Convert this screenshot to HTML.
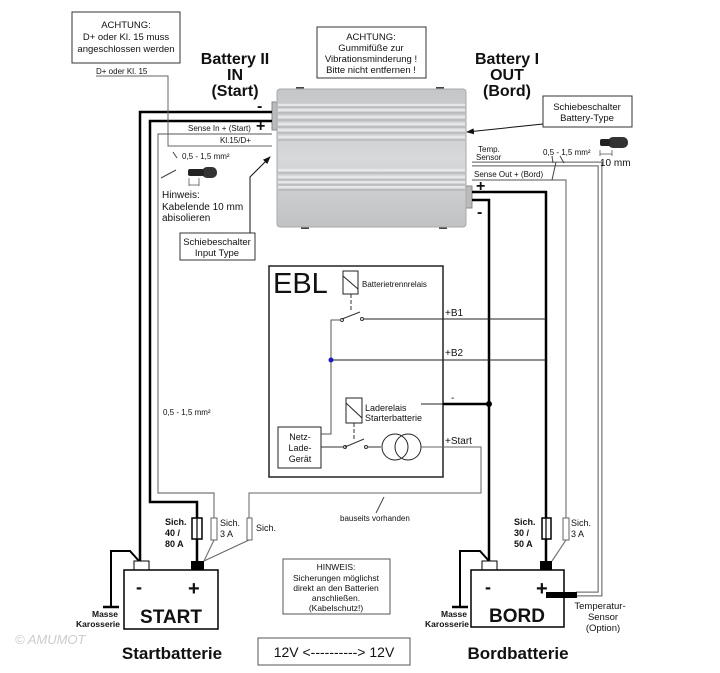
<!DOCTYPE html>
<html><head><meta charset="utf-8"><style>
body{margin:0;background:#fff}
svg{display:block}
text{font-family:"Liberation Sans",Arial,sans-serif;fill:#111}
.s{font-size:8px}
.m{font-size:9.5px}
.b{font-weight:bold}
</style></head><body>
<svg width="720" height="673" viewBox="0 0 720 673" xmlns="http://www.w3.org/2000/svg">
<defs>
<marker id="ar" markerWidth="8" markerHeight="6" refX="7" refY="3" orient="auto"><path d="M0,0 L8,3 L0,6 z" fill="#111"/></marker>
<linearGradient id="g" x1="0" y1="0" x2="0" y2="1"><stop offset="0" stop-color="#c4c6c8"/><stop offset="0.5" stop-color="#d6d8da"/><stop offset="1" stop-color="#c0c2c4"/></linearGradient>
</defs>

<rect x="72" y="12" width="108" height="51" fill="#fff" stroke="#333" stroke-width="1"/>
<text class="m" x="126" y="28" text-anchor="middle">ACHTUNG:</text>
<text class="m" x="126" y="40" text-anchor="middle">D+ oder Kl. 15 muss</text>
<text class="m" x="126" y="52" text-anchor="middle">angeschlossen werden</text>
<text class="s" x="96" y="74">D+ oder Kl. 15</text>

<text x="235" y="64" font-size="16" class="b" text-anchor="middle">Battery II</text>
<text x="235" y="80" font-size="16" class="b" text-anchor="middle">IN</text>
<text x="235" y="96" font-size="16" class="b" text-anchor="middle">(Start)</text>

<rect x="317" y="27" width="109" height="51" fill="#fff" stroke="#333"/>
<text class="m" x="371" y="40" text-anchor="middle">ACHTUNG:</text>
<text class="m" x="371" y="51" text-anchor="middle">Gummifüße zur</text>
<text class="m" x="371" y="62" text-anchor="middle">Vibrationsminderung !</text>
<text class="m" x="371" y="73" text-anchor="middle">Bitte nicht entfernen !</text>

<text x="507" y="64" font-size="16" class="b" text-anchor="middle">Battery I</text>
<text x="507" y="80" font-size="16" class="b" text-anchor="middle">OUT</text>
<text x="507" y="96" font-size="16" class="b" text-anchor="middle">(Bord)</text>

<rect x="543" y="96" width="89" height="31" fill="#fff" stroke="#333"/>
<text class="m" x="587" y="110" text-anchor="middle">Schiebeschalter</text>
<text class="m" x="587" y="121" text-anchor="middle">Battery-Type</text>
<line x1="543" y1="124" x2="467" y2="132" stroke="#111" stroke-width="1" marker-end="url(#ar)"/>

<rect x="272" y="102" width="12" height="28" fill="#bbb" stroke="#888"/>
<rect x="460" y="186" width="12" height="22" fill="#bbb" stroke="#888"/>
<rect x="296" y="87" width="8" height="4" fill="#444"/>
<rect x="436" y="87" width="8" height="4" fill="#444"/>
<rect x="301" y="225" width="8" height="4" fill="#444"/>
<rect x="439" y="225" width="8" height="4" fill="#444"/>
<rect x="277" y="89" width="189" height="138" rx="3" fill="url(#g)" stroke="#aaa"/>
<g stroke="#e6e7e8" stroke-width="2.5">
<line x1="278" y1="105" x2="465" y2="105"/><line x1="278" y1="110" x2="465" y2="110"/>
<line x1="278" y1="117" x2="465" y2="117"/><line x1="278" y1="124" x2="465" y2="124"/>
<line x1="278" y1="130" x2="465" y2="130"/><line x1="278" y1="137" x2="465" y2="137"/>
<line x1="278" y1="170" x2="465" y2="170"/><line x1="278" y1="177" x2="465" y2="177"/>
<line x1="278" y1="182" x2="465" y2="182"/><line x1="278" y1="187" x2="465" y2="187"/>
</g>
<g stroke="#a8aaac" stroke-width="1">
<line x1="278" y1="107" x2="465" y2="107"/><line x1="278" y1="113" x2="465" y2="113"/>
<line x1="278" y1="120" x2="465" y2="120"/><line x1="278" y1="127" x2="465" y2="127"/>
<line x1="278" y1="133" x2="465" y2="133"/><line x1="278" y1="140" x2="465" y2="140"/>
<line x1="278" y1="173" x2="465" y2="173"/><line x1="278" y1="180" x2="465" y2="180"/>
<line x1="278" y1="185" x2="465" y2="185"/><line x1="278" y1="190" x2="465" y2="190"/>
</g>

<text x="257" y="111" font-size="16" class="b">-</text>
<text x="256" y="131" font-size="16" class="b">+</text>
<polyline points="272,112 140,112 140,562" fill="none" stroke="#000" stroke-width="2.5"/>
<polyline points="272,121 150,121 150,502 197,502 197,561" fill="none" stroke="#000" stroke-width="2.5"/>
<g fill="none">
<polyline points="272,134 158,134 158,493 214,493 214,540 204,561" stroke="#777" stroke-width="1.2"/>
<polyline points="96,76 168,76 168,146 272,146" stroke="#666" stroke-width="1"/>
</g>
<text class="s" x="188" y="131">Sense In + (Start)</text>
<text class="s" x="220" y="143">Kl.15/D+</text>
<line x1="173" y1="152" x2="177" y2="158" stroke="#444"/>
<text class="s" x="182" y="159">0,5 - 1,5 mm²</text>
<line x1="161" y1="178" x2="176" y2="170" stroke="#444"/>
<rect x="202" y="167" width="15" height="11" rx="5" fill="#333"/>
<rect x="188" y="169" width="16" height="7" rx="2" fill="#222"/>
<line x1="189" y1="178" x2="189" y2="186" stroke="#444" stroke-width=".7"/>
<line x1="199" y1="178" x2="199" y2="186" stroke="#444" stroke-width=".7"/>
<line x1="189" y1="185" x2="199" y2="185" stroke="#444" stroke-width=".7"/>
<text x="162" y="198" font-size="10">Hinweis:</text>
<text x="162" y="210" font-size="10">Kabelende 10 mm</text>
<text x="162" y="221" font-size="10">abisolieren</text>
<rect x="180" y="233" width="75" height="27" fill="#fff" stroke="#333"/>
<text class="m" x="217" y="245" text-anchor="middle">Schiebeschalter</text>
<text class="m" x="217" y="256" text-anchor="middle">Input Type</text>
<polyline points="250,233 250,177 270,157" fill="none" stroke="#111" marker-end="url(#ar)"/>
<text class="s" x="163" y="415">0,5 - 1,5 mm²</text>

<text x="476" y="191" font-size="16" class="b">+</text>
<text x="477" y="217" font-size="16" class="b">-</text>
<polyline points="472,200 489,200 489,562" fill="none" stroke="#000" stroke-width="2.5"/>
<polyline points="472,192 546,192 546,561" fill="none" stroke="#000" stroke-width="2.5"/>
<g fill="none">
<polyline points="472,180 566,180 566,540 552,561" stroke="#777" stroke-width="1.2"/>
<polyline points="472,164 600,164 600,594 576,594" stroke="#777" stroke-width="5"/>
<polyline points="472,164 600,164 600,594 576,594" stroke="#fff" stroke-width="2.5"/>
</g>
<text class="s" x="478" y="152">Temp.</text>
<text class="s" x="476" y="160">Sensor</text>
<text class="s" x="474" y="177">Sense Out + (Bord)</text>
<text class="s" x="543" y="155">0,5 - 1,5 mm²</text>
<line x1="552" y1="156" x2="553" y2="163" stroke="#444"/>
<line x1="560" y1="156" x2="564" y2="163" stroke="#444"/>
<line x1="556" y1="162" x2="552" y2="180" stroke="#444"/>
<rect x="608" y="137" width="20" height="11" rx="5" fill="#333"/>
<rect x="600" y="139" width="10" height="7" rx="2" fill="#222"/>
<line x1="600" y1="150" x2="600" y2="156" stroke="#444" stroke-width=".7"/>
<line x1="612" y1="150" x2="612" y2="156" stroke="#444" stroke-width=".7"/>
<line x1="600" y1="154" x2="612" y2="154" stroke="#444" stroke-width=".7"/>
<text x="600" y="166" font-size="10">10 mm</text>

<rect x="269" y="266" width="174" height="211" fill="#fff" stroke="#222" stroke-width="1.5"/>
<text x="273" y="293" font-size="29">EBL</text>
<rect x="343" y="271" width="15" height="23" fill="#fff" stroke="#222"/>
<line x1="343" y1="276" x2="358" y2="289" stroke="#222"/>
<text class="s" x="362" y="287">Batterietrennrelais</text>
<line x1="351" y1="294" x2="351" y2="312" stroke="#333" stroke-dasharray="4,2"/>
<circle cx="342" cy="320" r="1.5" fill="none" stroke="#333"/>
<circle cx="362" cy="319" r="1.5" fill="none" stroke="#333"/>
<line x1="342" y1="319" x2="360" y2="312" stroke="#333"/>
<polyline points="341,320 331,320 331,434 321,434" fill="none" stroke="#555"/>
<line x1="364" y1="319" x2="546" y2="319" stroke="#222"/>
<line x1="331" y1="360" x2="546" y2="360" stroke="#222"/>
<circle cx="331" cy="360" r="2.5" fill="#1a1acc"/>
<text font-size="10" x="445" y="316">+B1</text>
<text font-size="10" x="445" y="356">+B2</text>
<text font-size="10" x="451" y="401">-</text>
<line x1="421" y1="404" x2="443" y2="404" stroke="#222"/>
<line x1="443" y1="404" x2="489" y2="404" stroke="#000" stroke-width="2.5"/>
<circle cx="489" cy="404" r="3" fill="#000"/>
<rect x="346" y="398" width="16" height="25" fill="#fff" stroke="#222"/>
<line x1="346" y1="403" x2="362" y2="418" stroke="#222"/>
<text font-size="9" x="365" y="411">Laderelais</text>
<text font-size="9" x="365" y="421">Starterbatterie</text>
<line x1="354" y1="423" x2="354" y2="440" stroke="#333" stroke-dasharray="4,2"/>
<circle cx="345" cy="447" r="1.5" fill="none" stroke="#333"/>
<circle cx="366" cy="447" r="1.5" fill="none" stroke="#333"/>
<line x1="345" y1="447" x2="364" y2="439" stroke="#333"/>
<rect x="278" y="427" width="43" height="41" fill="#fff" stroke="#222"/>
<text font-size="9" x="300" y="440" text-anchor="middle">Netz-</text>
<text font-size="9" x="300" y="451" text-anchor="middle">Lade-</text>
<text font-size="9" x="300" y="462" text-anchor="middle">Gerät</text>
<line x1="321" y1="447" x2="343" y2="447" stroke="#333"/>
<line x1="368" y1="447" x2="381" y2="447" stroke="#333"/>
<circle cx="395" cy="447" r="13" fill="none" stroke="#222"/>
<circle cx="408" cy="447" r="13" fill="none" stroke="#222"/>
<polyline points="421,447 481,447 481,493 249,493 249,540 204,561" fill="none" stroke="#666" stroke-width="1"/>
<text font-size="10" x="445" y="444">+Start</text>
<text class="s" x="340" y="521">bauseits vorhanden</text>
<line x1="384" y1="497" x2="376" y2="513" stroke="#444"/>

<rect x="192" y="518" width="10" height="21" fill="#fff" stroke="#000" stroke-width="1.5"/>
<line x1="197" y1="518" x2="197" y2="539" stroke="#000" stroke-width="1.2"/>
<rect x="211" y="518" width="6" height="22" fill="#fff" stroke="#666"/>
<rect x="247" y="518" width="5" height="22" fill="#fff" stroke="#666"/>
<text font-size="9" class="b" x="165" y="525">Sich.</text>
<text font-size="9" class="b" x="165" y="536">40 /</text>
<text font-size="9" class="b" x="165" y="547">80 A</text>
<text font-size="9" x="220" y="526">Sich.</text>
<text font-size="9" x="220" y="537">3 A</text>
<text font-size="9" x="256" y="531">Sich.</text>

<polyline points="139,561 130,551 111,551 111,607" fill="none" stroke="#000" stroke-width="2"/>
<line x1="103" y1="607" x2="119" y2="607" stroke="#000" stroke-width="2.5"/>
<rect x="134" y="561" width="15" height="9" fill="#fff" stroke="#000"/>
<rect x="191" y="561" width="13" height="9" fill="#000"/>
<rect x="124" y="570" width="94" height="59" fill="#fff" stroke="#000" stroke-width="1.5"/>
<text x="136" y="593" font-size="18" class="b">-</text>
<text x="188" y="595" font-size="20" class="b">+</text>
<text x="171" y="623" font-size="19" class="b" text-anchor="middle">START</text>
<text font-size="8.5" class="b" x="118" y="617" text-anchor="end">Masse</text>
<text font-size="8.5" class="b" x="120" y="627" text-anchor="end">Karosserie</text>

<rect x="542" y="518" width="9" height="21" fill="#fff" stroke="#000" stroke-width="1.5"/>
<line x1="546" y1="518" x2="546" y2="539" stroke="#000" stroke-width="1.2"/>
<rect x="563" y="518" width="6" height="22" fill="#fff" stroke="#666"/>
<text font-size="9" class="b" x="514" y="525">Sich.</text>
<text font-size="9" class="b" x="514" y="536">30 /</text>
<text font-size="9" class="b" x="514" y="547">50 A</text>
<text font-size="9" x="571" y="526">Sich.</text>
<text font-size="9" x="571" y="537">3 A</text>

<polyline points="489,561 480,551 460,551 460,607" fill="none" stroke="#000" stroke-width="2"/>
<line x1="452" y1="607" x2="468" y2="607" stroke="#000" stroke-width="2.5"/>
<rect x="482" y="561" width="15" height="9" fill="#fff" stroke="#000"/>
<rect x="540" y="561" width="12" height="9" fill="#000"/>
<rect x="471" y="570" width="93" height="57" fill="#fff" stroke="#000" stroke-width="1.5"/>
<text x="485" y="593" font-size="18" class="b">-</text>
<text x="536" y="595" font-size="20" class="b">+</text>
<text x="517" y="622" font-size="19" class="b" text-anchor="middle">BORD</text>
<rect x="546" y="592" width="31" height="6" fill="#000"/>
<text font-size="8.5" class="b" x="467" y="617" text-anchor="end">Masse</text>
<text font-size="8.5" class="b" x="469" y="627" text-anchor="end">Karosserie</text>
<text font-size="9.5" x="600" y="609" text-anchor="middle">Temperatur-</text>
<text font-size="9.5" x="603" y="620" text-anchor="middle">Sensor</text>
<text font-size="9.5" x="603" y="631" text-anchor="middle">(Option)</text>

<rect x="283" y="559" width="107" height="55" fill="#fff" stroke="#555"/>
<text font-size="8.5" x="336" y="570" text-anchor="middle">HINWEIS:</text>
<text font-size="8.5" x="336" y="581" text-anchor="middle">Sicherungen möglichst</text>
<text font-size="8.5" x="336" y="591" text-anchor="middle">direkt an den Batterien</text>
<text font-size="8.5" x="336" y="601" text-anchor="middle">anschließen.</text>
<text font-size="8.5" x="336" y="611" text-anchor="middle">(Kabelschutz!)</text>

<text x="15" y="644" font-size="13" font-style="italic" style="fill:#ccc">© AMUMOT</text>
<text x="172" y="659" font-size="17" class="b" text-anchor="middle">Startbatterie</text>
<text x="518" y="659" font-size="17" class="b" text-anchor="middle">Bordbatterie</text>
<rect x="258" y="638" width="152" height="27" fill="#fff" stroke="#555"/>
<text x="334" y="657" font-size="14" text-anchor="middle">12V &lt;----------&gt; 12V</text>
</svg>
</body></html>
